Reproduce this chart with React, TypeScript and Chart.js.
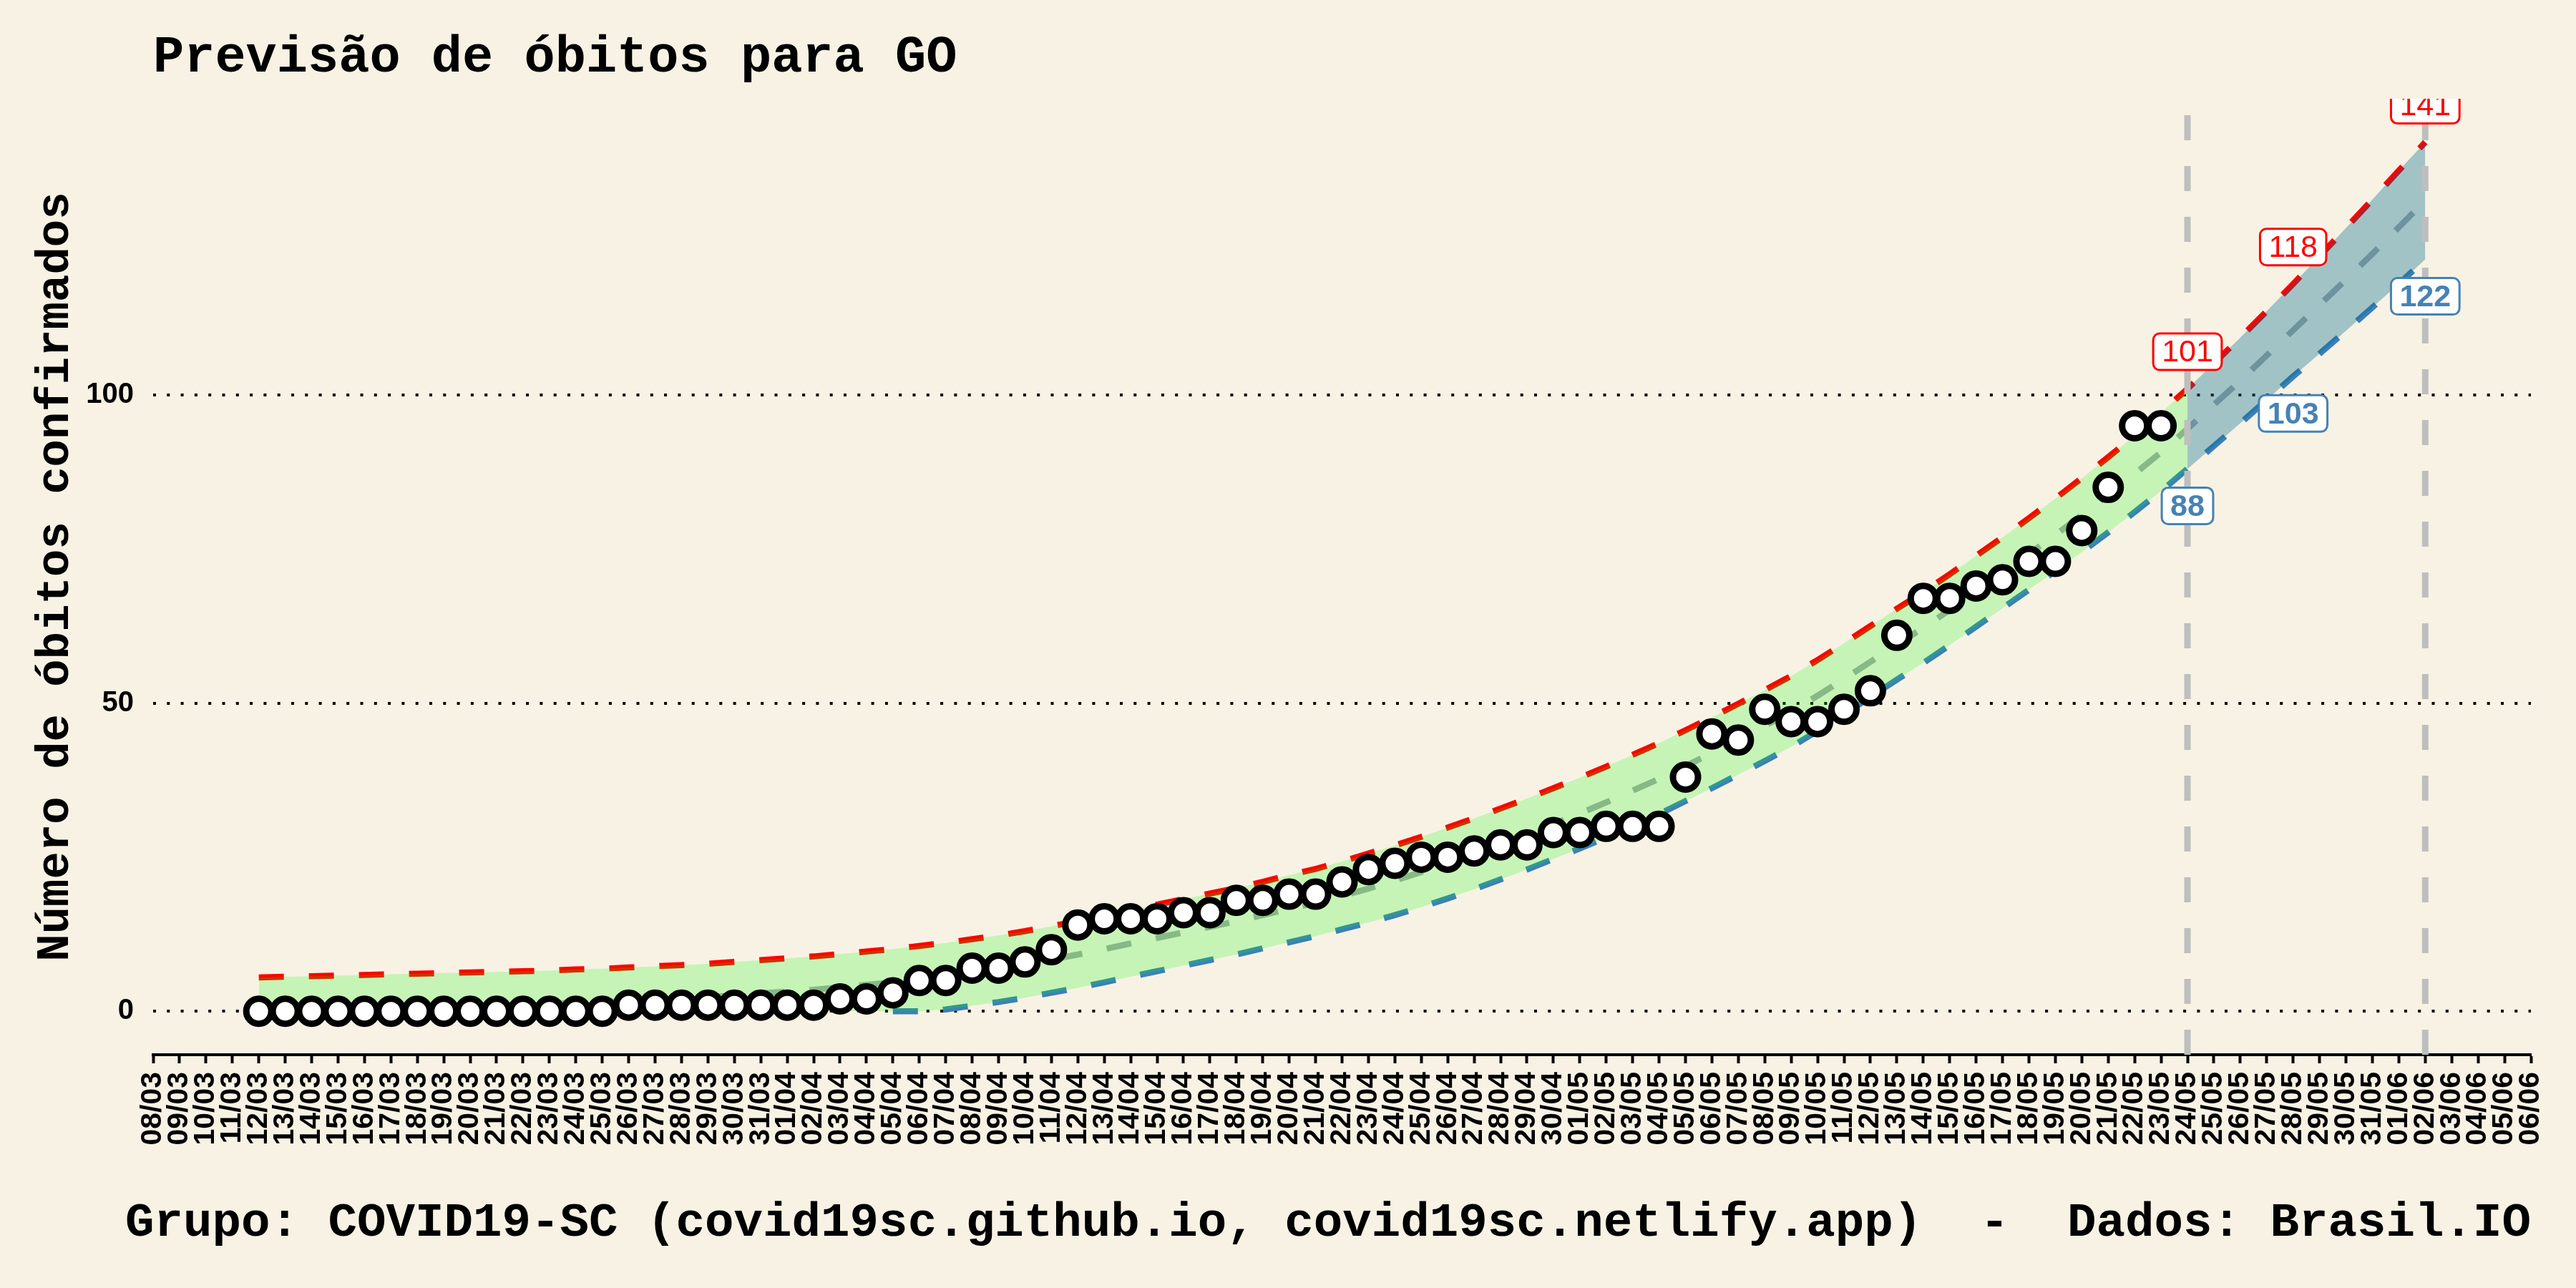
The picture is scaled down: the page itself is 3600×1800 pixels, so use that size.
import React, { useEffect, useRef } from "react";
import { Chart, registerables } from "chart.js";

Chart.register(...registerables);

// ---------- DATA ----------
const dates = [
  "08/03", "09/03", "10/03", "11/03", "12/03", "13/03", "14/03", "15/03", "16/03", "17/03",
  "18/03", "19/03", "20/03", "21/03", "22/03", "23/03", "24/03", "25/03", "26/03", "27/03",
  "28/03", "29/03", "30/03", "31/03",
  "01/04", "02/04", "03/04", "04/04", "05/04", "06/04", "07/04", "08/04", "09/04", "10/04",
  "11/04", "12/04", "13/04", "14/04", "15/04", "16/04", "17/04", "18/04", "19/04", "20/04",
  "21/04", "22/04", "23/04", "24/04", "25/04", "26/04", "27/04", "28/04", "29/04", "30/04",
  "01/05", "02/05", "03/05", "04/05", "05/05", "06/05", "07/05", "08/05", "09/05", "10/05",
  "11/05", "12/05", "13/05", "14/05", "15/05", "16/05", "17/05", "18/05", "19/05", "20/05",
  "21/05", "22/05", "23/05", "24/05", "25/05", "26/05", "27/05", "28/05", "29/05", "30/05",
  "31/05",
  "01/06", "02/06", "03/06", "04/06", "05/06", "06/06",
];

// confirmed deaths, 12/03 .. 23/05
const observedStart = "12/03";
const observed = [
  0, 0, 0, 0, 0, 0, 0, 0, 0, 0, 0, 0, 0, 0,
  1, 1, 1, 1, 1, 1, 1, 1,
  2, 2, 3, 5, 5, 7, 7, 8, 10,
  14, 15, 15, 15, 16, 16, 18, 18, 19, 19, 21, 23, 24, 25, 25, 26, 27, 27, 29, 29,
  30, 30, 30, 38, 45, 44, 49, 47, 47, 49, 52, 61, 67, 67, 69, 70, 73, 73, 78, 85, 95, 95,
];

// fitted curves, 12/03 .. 02/06
const fitStart = "12/03";
const fitUpper = [
  5.5, 5.6, 5.7, 5.8, 5.9, 6.0, 6.1, 6.2, 6.3, 6.4, 6.5, 6.6, 6.8, 6.9,
  7.1, 7.3, 7.5, 7.7, 8.0, 8.3, 8.6, 8.9, 9.3, 9.7, 10.1, 10.6, 11.1, 11.7, 12.3, 13.0,
  13.8, 14.6, 15.5, 16.4, 17.3, 18.2, 19.1, 20.0, 21.0, 22.1, 23.1, 24.3, 25.6, 26.9,
  28.3, 29.8, 31.3, 32.9, 34.5, 36.2, 37.9, 39.7, 41.6, 43.5, 45.6, 47.7, 49.9, 52.1,
  54.4, 57.0, 59.7, 62.5, 65.3, 68.0, 70.9, 73.9, 76.9, 80.0, 83.2, 86.5, 89.9, 93.4,
  97.1, 101, 105.1, 109.3, 113.6, 118, 122.5, 127.1, 131.7, 136.4, 141,
];
const fitMid = [
  0.1, 0.2, 0.3, 0.4, 0.5, 0.6, 0.7, 0.8, 0.9, 1.0, 1.1, 1.2, 1.4, 1.5,
  1.7, 1.9, 2.1, 2.3, 2.6, 2.9, 3.2, 3.5, 3.9, 4.3, 4.7, 5.2, 5.7, 6.3, 6.9, 7.6,
  8.4, 9.2, 10.1, 11.0, 11.9, 12.8, 13.7, 14.6, 15.6, 16.6, 17.6, 18.7, 19.9, 21.2,
  22.6, 24.0, 25.6, 27.1, 28.7, 30.4, 32.1, 33.9, 35.8, 37.7, 39.8, 41.9, 44.1, 46.3,
  48.6, 51.2, 53.9, 56.7, 59.5, 62.2, 65.1, 68.1, 71.1, 74.2, 77.3, 80.5, 83.8, 87.2,
  90.7, 94.5, 98.4, 102.3, 106.4, 110.5, 114.6, 118.7, 122.9, 127.2, 131.5,
];
const fitLower = [
  0, 0, 0, 0, 0, 0, 0, 0, 0, 0, 0, 0, 0, 0,
  0, 0, 0, 0, 0, 0, 0, 0, 0, 0, 0, 0, 0.3, 0.9, 1.5, 2.2,
  3.0, 3.8, 4.7, 5.6, 6.5, 7.4, 8.3, 9.2, 10.2, 11.2, 12.2, 13.3, 14.4, 15.6,
  16.9, 18.3, 19.8, 21.4, 23.0, 24.7, 26.4, 28.2, 30.1, 32.0, 34.1, 36.2, 38.4, 40.6,
  42.9, 45.5, 48.2, 51.0, 53.8, 56.5, 59.4, 62.4, 65.4, 68.4, 71.4, 74.5, 77.7, 81.0,
  84.4, 88, 91.7, 95.4, 99.2, 103, 106.7, 110.4, 114.2, 118.0, 122,
];
const lowerLineStart = "05/04";
const forecastStart = "24/05";
const forecastEnd = "02/06";

const labelDates = ["24/05", "28/05", "02/06"];
const upperLabelValues = [101, 118, 141];
const lowerLabelValues = [88, 103, 122];

const yTicks = [0, 50, 100];
const yMin = -7.05;
const yMax = 148.05;

const titleText = "Previsão de óbitos para GO";
const yTitleText = "Número de óbitos confirmados";
const captionText = "Grupo: COVID19-SC (covid19sc.github.io, covid19sc.netlify.app)  -  Dados: Brasil.IO";

// ---------- STYLE ----------
const BG = "#f8f2e4";
const RED = "#ff0000";
const BLUE_LINE = "#3d7fb8";
const STEEL = "#4682b4";
const MID_GREY = "#a8a8a8";
const GREEN_FILL = "rgba(0,255,0,0.2)";
const BLUE_FILL = "rgba(0,110,140,0.35)";
const VLINE = "#bebebe";
const LABEL_NUDGE = 6;

const idx = (d: string) => dates.indexOf(d);
const place = (arr: number[], start: string) => {
  const s = idx(start);
  return dates.map((_, i) => {
    const k = i - s;
    return k >= 0 && k < arr.length ? arr[k] : null;
  });
};

export default function App() {
  const ref = useRef<HTMLCanvasElement | null>(null);

  useEffect(() => {
    document.body.style.margin = "0";
    document.body.style.background = BG;
    const canvas = ref.current!;
    const fs = idx(fitStart);
    const fcs = idx(forecastStart) - fs;
    const lls = idx(lowerLineStart) - fs;

    const greenLow = place(fitLower.slice(0, fcs + 1), fitStart);
    const greenHigh = place(fitUpper.slice(0, fcs + 1), fitStart);
    const blueLow = place(fitLower.slice(fcs), forecastStart);
    const blueHigh = place(fitUpper.slice(fcs), forecastStart);

    const bgPlugin = {
      id: "bg",
      beforeDraw(chart: any) {
        const c = chart.ctx;
        c.save();
        c.fillStyle = BG;
        c.fillRect(0, 0, chart.width, chart.height);
        c.restore();
      },
    };

    const vlinePlugin = {
      id: "vlines",
      beforeDatasetDraw(chart: any, args: any) {
        if (args.index !== 7) return;
        const c = chart.ctx;
        const x = chart.scales.x;
        const a = chart.chartArea;
        c.save();
        c.beginPath();
        c.rect(a.left, a.top, a.right - a.left, a.bottom - a.top);
        c.clip();
        c.strokeStyle = VLINE;
        c.lineWidth = 9;
        c.setLineDash([35, 36]);
        [forecastStart, forecastEnd].forEach((d) => {
          const px = x.getPixelForValue(idx(d));
          c.beginPath();
          c.moveTo(px, a.bottom);
          c.lineTo(px, a.top);
          c.stroke();
        });
        c.restore();
      },
    };

    const drawLabel = (c: any, px: number, py: number, text: string, color: string, bold: boolean) => {
      c.font = `${bold ? "bold " : ""}43px "Liberation Sans", Arial, sans-serif`;
      const w = c.measureText(text).width + 24;
      const h = 51;
      c.beginPath();
      c.roundRect(px - w / 2, py - h / 2, w, h, 9);
      c.fillStyle = "#ffffff";
      c.fill();
      c.lineWidth = 3;
      c.strokeStyle = color;
      c.stroke();
      c.fillStyle = color;
      c.textAlign = "center";
      c.textBaseline = "middle";
      c.fillText(text, px, py + 2);
    };

    const labelPlugin = {
      id: "valueLabels",
      afterDatasetsDraw(chart: any) {
        const c = chart.ctx;
        const a = chart.chartArea;
        const x = chart.scales.x;
        const y = chart.scales.y;
        c.save();
        c.beginPath();
        c.rect(a.left, a.top, a.right - a.left, a.bottom - a.top);
        c.clip();
        labelDates.forEach((d, i) => {
          const px = x.getPixelForValue(idx(d));
          drawLabel(c, px, y.getPixelForValue(upperLabelValues[i] + LABEL_NUDGE), String(upperLabelValues[i]), RED, false);
          drawLabel(c, px, y.getPixelForValue(lowerLabelValues[i] - LABEL_NUDGE), String(lowerLabelValues[i]), STEEL, true);
        });
        c.restore();
      },
    };

    const textPlugin = {
      id: "texts",
      afterDraw(chart: any) {
        const c = chart.ctx;
        const a = chart.chartArea;
        c.save();
        c.fillStyle = "#000000";
        c.textBaseline = "alphabetic";
        c.font = 'bold 72px "Liberation Mono", "Courier New", monospace';
        c.textAlign = "left";
        c.fillText(titleText, a.left, 100);
        c.font = 'bold 67.5px "Liberation Mono", "Courier New", monospace';
        c.textAlign = "right";
        c.fillText(captionText, a.right, 1727);
        c.restore();
      },
    };

    const lineBase = {
      borderWidth: 8.5,
      borderDash: [35, 35],
      borderCapStyle: "butt",
      pointRadius: 0,
      pointHoverRadius: 0,
      fill: false,
      tension: 0,
      spanGaps: false,
      order: 10,
    };
    const bandBase = {
      borderWidth: 0,
      borderColor: "rgba(0,0,0,0)",
      pointRadius: 0,
      pointHoverRadius: 0,
      tension: 0,
    };

    const chart = new Chart(canvas, {
      type: "line",
      data: {
        labels: dates,
        datasets: [
          { ...lineBase, label: "upper", data: place(fitUpper, fitStart), borderColor: RED },
          { ...lineBase, label: "mid", data: place(fitMid, fitStart), borderColor: MID_GREY },
          { ...lineBase, label: "lower", data: place(fitLower.slice(lls), lowerLineStart), borderColor: BLUE_LINE },
          { ...bandBase, label: "gLow", data: greenLow, fill: false, order: 5 },
          { ...bandBase, label: "gHigh", data: greenHigh, fill: "-1", backgroundColor: GREEN_FILL, order: 5 },
          { ...bandBase, label: "bLow", data: blueLow, fill: false, order: 4 },
          { ...bandBase, label: "bHigh", data: blueHigh, fill: "-1", backgroundColor: BLUE_FILL, order: 4 },
          {
            label: "obitos",
            data: place(observed, observedStart),
            showLine: false,
            borderWidth: 9,
            pointRadius: 17.5,
            pointHoverRadius: 17.5,
            pointBorderWidth: 9,
            pointBackgroundColor: "#ffffff",
            pointBorderColor: "#000000",
            order: 1,
          },
        ] as any,
      },
      options: {
        animation: false,
        responsive: false,
        devicePixelRatio: 1,
        events: [],
        layout: { padding: { left: 0, top: 138, right: 63, bottom: 0 } },
        plugins: {
          legend: { display: false },
          tooltip: { enabled: false },
          title: { display: false },
        },
        scales: {
          x: {
            type: "category",
            offset: false,
            afterFit(scale: any) {
              scale.height = 326;
            },
            grid: {
              display: true,
              drawOnChartArea: false,
              drawTicks: true,
              tickLength: 12,
              tickWidth: 4,
              tickColor: "#000000",
              offset: false,
            },
            border: { display: true, color: "#000000", width: 4 },
            ticks: {
              autoSkip: false,
              maxRotation: 90,
              minRotation: 90,
              padding: 12,
              color: "#000000",
              font: { family: '"Liberation Sans", Arial, sans-serif', size: 41, weight: "bold" },
            },
          },
          y: {
            type: "linear",
            min: yMin,
            max: yMax,
            afterFit(scale: any) {
              scale.width = 214;
            },
            afterBuildTicks(scale: any) {
              scale.ticks = yTicks.map((v) => ({ value: v }));
            },
            grid: {
              display: true,
              drawTicks: false,
              color: "#000000",
              lineWidth: 4,
            },
            border: { display: false, dash: [4, 15.3] },
            ticks: {
              padding: 27,
              color: "#000000",
              font: { family: '"Liberation Sans", Arial, sans-serif', size: 40, weight: "bold" },
            },
            title: {
              display: true,
              text: yTitleText,
              color: "#000000",
              padding: { top: 40, bottom: 0 },
              font: { family: '"Liberation Mono", "Courier New", monospace', size: 64, weight: "bold" },
            },
          },
        },
      } as any,
      plugins: [bgPlugin, vlinePlugin, labelPlugin, textPlugin],
    });

    return () => chart.destroy();
  }, []);

  return (
    <div style={{ width: 3600, height: 1800, background: BG }}>
      <canvas ref={ref} width={3600} height={1800} style={{ display: "block", width: 3600, height: 1800 }} />
    </div>
  );
}
